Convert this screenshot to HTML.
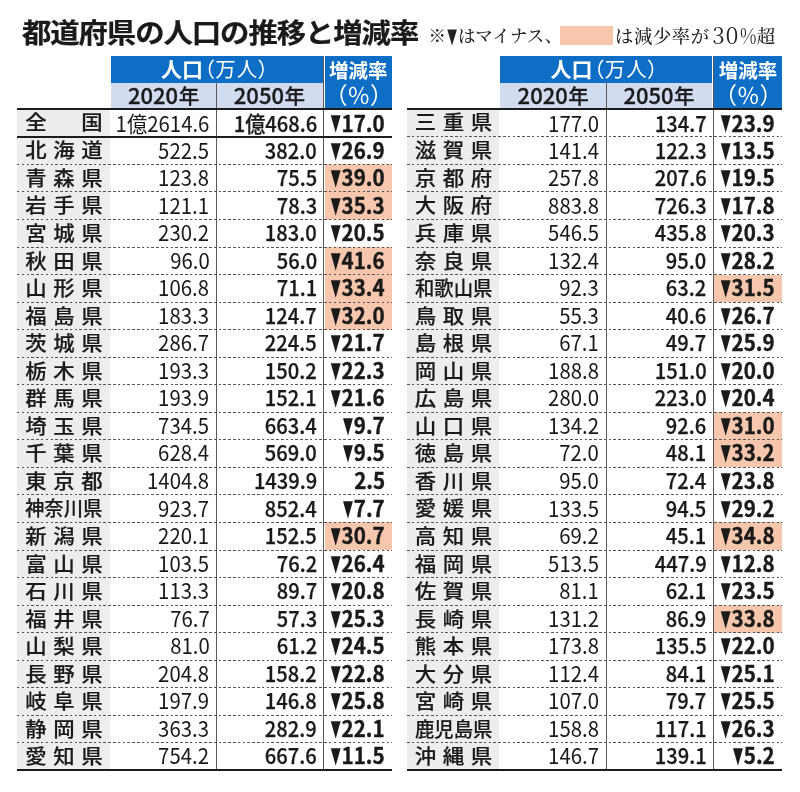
<!DOCTYPE html>
<html lang="ja"><head><meta charset="utf-8"><title>都道府県の人口の推移と増減率</title>
<style>
*{margin:0;padding:0;box-sizing:border-box}
html,body{width:800px;height:792px;background:#fff;overflow:hidden}
body{position:relative;font-family:"Liberation Sans","Noto Sans CJK JP",sans-serif;color:#1a1a1a}
.abs{position:absolute}
.title{left:21.9px;top:11.1px;transform:scaleY(0.93);transform-origin:0 50%;font:700 29.4px/40px "Noto Sans CJK JP","Liberation Sans",sans-serif;letter-spacing:-1.08px;white-space:nowrap;color:#1c1a19;-webkit-text-stroke:0.25px #1c1a19}
.legend{top:21.5px;font:500 17.5px/30px "Noto Serif CJK JP","Noto Serif CJK SC","Liberation Serif",serif;white-space:nowrap;color:#222}
.swatch{left:560px;top:26px;width:52.8px;height:19px;background:#f6c7ad}
.tbl{position:absolute;top:0;width:375px;height:792px}
.namebg{left:0;top:109px;width:92.5px;height:661px;background:#ededed}
.hb{background:#0e6dc5}
.hl{background:#d2dcf0}
.h1{left:93.6px;top:56px;width:212px;height:27.2px}
.h2{left:93.6px;top:83.2px;width:212px;height:24.8px}
.h3{left:307.6px;top:56px;width:67.4px;height:52px}
.ht{color:#fff;white-space:nowrap;font-family:"Noto Sans CJK JP","Liberation Sans",sans-serif}
.hk{font-weight:700;font-size:21px;line-height:27px}
.hp{font-weight:400;font-size:20.5px;font-feature-settings:"palt";letter-spacing:1px;margin-left:1px}
.yr{font:500 22px/24px "Noto Sans CJK JP","Liberation Sans",sans-serif;color:#1a1a1a;-webkit-text-stroke:0.3px #1a1a1a;white-space:nowrap;text-align:center;width:106px}
.nen{font-size:20.5px;margin-left:0.5px}
.vl{width:1px;background:#5a5a5a}
.sl{left:0;width:375px;height:2px;background:#1c1c1c}
.dl{left:0;width:375px;height:1px;background:repeating-linear-gradient(90deg,#555 0 2.5px,transparent 2.5px 4.8px)}
.row{left:0;width:375px}
.nm{position:absolute;left:8.2px;top:-0.5px;-webkit-text-stroke:0.2px #1a1a1a;width:77.4px;transform:scaleY(0.94);text-align:justify;text-align-last:justify;text-justify:inter-character;font:500 21.4px/27.5px "Noto Sans CJK JP","Liberation Sans",sans-serif;color:#1a1a1a;white-space:nowrap}
.nm4{width:85.6px;transform:scale(0.904,0.94);transform-origin:0 50%}
.n{position:absolute;top:-1.4px;line-height:27.5px;white-space:nowrap;text-align:right;font-family:"Noto Sans CJK JP","Liberation Sans",sans-serif;font-size:22px;transform-origin:100% 50%}
.a{right:182.6px;font-weight:400;transform:scaleX(0.925)}
.b{right:75.2px;font-weight:500;transform:scaleX(0.915);-webkit-text-stroke:0.25px #1a1a1a}
.c{right:7.2px;font-weight:700;transform:scaleX(0.935);-webkit-text-stroke:0.4px #1a1a1a}
.pk{left:307.6px;width:67.4px;background:#f6c7ad}
.tri{display:inline-block;-webkit-text-stroke:0;transform:scaleX(0.6);transform-origin:100% 50%;font-size:23px;line-height:27.5px;margin-left:-8px;margin-right:0.9px;font-family:"DejaVu Sans","Liberation Sans",sans-serif;vertical-align:top;position:relative;top:1px}
</style></head><body>
<div class="abs title">都道府県の人口の推移と増減率</div>
<div class="abs legend" style="left:428.6px;top:20px">※<span style="display:inline-block;transform:scaleX(0.6);font-family:'DejaVu Sans',sans-serif;font-size:21px;line-height:30px;vertical-align:top;margin:0 -2.2px 0 -2.2px;position:relative;top:1px">▼</span>はマイナス、</div>
<div class="abs swatch"></div>
<div class="abs legend" style="left:615px;top:19.6px;font-size:18.4px;letter-spacing:0.55px">は減少率が<span style="font-size:22.5px;font-weight:300;line-height:20px;letter-spacing:0.8px;margin-left:2.6px;position:relative;top:1.6px;font-weight:400">30</span><span style="font-size:21px;font-weight:300;line-height:20px;display:inline-block;transform:scaleX(0.86);transform-origin:0 50%;margin-right:-2.6px;margin-left:0.6px;position:relative;top:1.4px">%</span>超</div>
<div class="tbl" style="left:17.0px">
<div class="abs namebg"></div>
<div class="abs hb h1"></div><div class="abs hl h2"></div><div class="abs hb h3"></div>
<div class="abs ht" style="left:144px;top:55.2px;line-height:27px"><span class="hk">人口</span><span class="hp">（万人）</span></div>
<div class="abs yr" style="left:93.6px;top:81.8px">2020<span class="nen">年</span></div>
<div class="abs yr" style="left:199.4px;top:81.8px">2050<span class="nen">年</span></div>
<div class="abs ht" style="left:307.6px;top:57.5px;width:67.4px;text-align:center;font-weight:700;font-size:19.5px;line-height:24px">増減率</div>
<div class="abs ht" style="left:307.6px;top:80.5px;width:67.4px;text-align:center;font-weight:400;font-size:23px;line-height:26px;font-feature-settings:'palt';letter-spacing:0.6px;padding-left:1.5px">（％）</div>
<div class="abs pk" style="top:164px;height:28px"></div>
<div class="abs pk" style="top:192px;height:28px"></div>
<div class="abs pk" style="top:247px;height:28px"></div>
<div class="abs pk" style="top:275px;height:27px"></div>
<div class="abs pk" style="top:302px;height:28px"></div>
<div class="abs pk" style="top:522px;height:28px"></div>
<div class="abs vl" style="left:199px;top:83px;height:688px"></div>
<div class="abs vl" style="left:306px;top:56px;height:715px"></div>
<div class="abs sl" style="top:108px"></div>
<div class="abs sl" style="top:136px"></div>
<div class="abs dl" style="top:164px"></div>
<div class="abs dl" style="top:191px"></div>
<div class="abs dl" style="top:219px"></div>
<div class="abs dl" style="top:247px"></div>
<div class="abs dl" style="top:274px"></div>
<div class="abs dl" style="top:302px"></div>
<div class="abs dl" style="top:329px"></div>
<div class="abs dl" style="top:357px"></div>
<div class="abs dl" style="top:384px"></div>
<div class="abs dl" style="top:412px"></div>
<div class="abs dl" style="top:439px"></div>
<div class="abs dl" style="top:467px"></div>
<div class="abs dl" style="top:494px"></div>
<div class="abs dl" style="top:522px"></div>
<div class="abs dl" style="top:550px"></div>
<div class="abs dl" style="top:577px"></div>
<div class="abs dl" style="top:605px"></div>
<div class="abs dl" style="top:632px"></div>
<div class="abs dl" style="top:660px"></div>
<div class="abs dl" style="top:687px"></div>
<div class="abs dl" style="top:715px"></div>
<div class="abs dl" style="top:742px"></div>
<div class="abs sl" style="top:769px"></div>
<div class="abs row" style="top:108.90px;height:28.00px;line-height:28.00px"><div class="nm" style="line-height:28.00px">全国</div><div class="n a" style="line-height:28.00px">1億2614.6</div><div class="n b" style="line-height:28.00px">1億468.6</div><div class="n c" style="line-height:28.00px"><span class="tri">▼</span>17.0</div></div>
<div class="abs row" style="top:136.90px;height:27.54px;line-height:27.54px"><div class="nm" style="line-height:27.54px">北海道</div><div class="n a" style="line-height:27.54px">522.5</div><div class="n b" style="line-height:27.54px">382.0</div><div class="n c" style="line-height:27.54px"><span class="tri">▼</span>26.9</div></div>
<div class="abs row" style="top:164.44px;height:27.54px;line-height:27.54px"><div class="nm" style="line-height:27.54px">青森県</div><div class="n a" style="line-height:27.54px">123.8</div><div class="n b" style="line-height:27.54px">75.5</div><div class="n c" style="line-height:27.54px"><span class="tri">▼</span>39.0</div></div>
<div class="abs row" style="top:191.98px;height:27.54px;line-height:27.54px"><div class="nm" style="line-height:27.54px">岩手県</div><div class="n a" style="line-height:27.54px">121.1</div><div class="n b" style="line-height:27.54px">78.3</div><div class="n c" style="line-height:27.54px"><span class="tri">▼</span>35.3</div></div>
<div class="abs row" style="top:219.52px;height:27.54px;line-height:27.54px"><div class="nm" style="line-height:27.54px">宮城県</div><div class="n a" style="line-height:27.54px">230.2</div><div class="n b" style="line-height:27.54px">183.0</div><div class="n c" style="line-height:27.54px"><span class="tri">▼</span>20.5</div></div>
<div class="abs row" style="top:247.06px;height:27.54px;line-height:27.54px"><div class="nm" style="line-height:27.54px">秋田県</div><div class="n a" style="line-height:27.54px">96.0</div><div class="n b" style="line-height:27.54px">56.0</div><div class="n c" style="line-height:27.54px"><span class="tri">▼</span>41.6</div></div>
<div class="abs row" style="top:274.60px;height:27.54px;line-height:27.54px"><div class="nm" style="line-height:27.54px">山形県</div><div class="n a" style="line-height:27.54px">106.8</div><div class="n b" style="line-height:27.54px">71.1</div><div class="n c" style="line-height:27.54px"><span class="tri">▼</span>33.4</div></div>
<div class="abs row" style="top:302.14px;height:27.54px;line-height:27.54px"><div class="nm" style="line-height:27.54px">福島県</div><div class="n a" style="line-height:27.54px">183.3</div><div class="n b" style="line-height:27.54px">124.7</div><div class="n c" style="line-height:27.54px"><span class="tri">▼</span>32.0</div></div>
<div class="abs row" style="top:329.68px;height:27.54px;line-height:27.54px"><div class="nm" style="line-height:27.54px">茨城県</div><div class="n a" style="line-height:27.54px">286.7</div><div class="n b" style="line-height:27.54px">224.5</div><div class="n c" style="line-height:27.54px"><span class="tri">▼</span>21.7</div></div>
<div class="abs row" style="top:357.22px;height:27.54px;line-height:27.54px"><div class="nm" style="line-height:27.54px">栃木県</div><div class="n a" style="line-height:27.54px">193.3</div><div class="n b" style="line-height:27.54px">150.2</div><div class="n c" style="line-height:27.54px"><span class="tri">▼</span>22.3</div></div>
<div class="abs row" style="top:384.76px;height:27.54px;line-height:27.54px"><div class="nm" style="line-height:27.54px">群馬県</div><div class="n a" style="line-height:27.54px">193.9</div><div class="n b" style="line-height:27.54px">152.1</div><div class="n c" style="line-height:27.54px"><span class="tri">▼</span>21.6</div></div>
<div class="abs row" style="top:412.30px;height:27.54px;line-height:27.54px"><div class="nm" style="line-height:27.54px">埼玉県</div><div class="n a" style="line-height:27.54px">734.5</div><div class="n b" style="line-height:27.54px">663.4</div><div class="n c" style="line-height:27.54px"><span class="tri">▼</span>9.7</div></div>
<div class="abs row" style="top:439.84px;height:27.54px;line-height:27.54px"><div class="nm" style="line-height:27.54px">千葉県</div><div class="n a" style="line-height:27.54px">628.4</div><div class="n b" style="line-height:27.54px">569.0</div><div class="n c" style="line-height:27.54px"><span class="tri">▼</span>9.5</div></div>
<div class="abs row" style="top:467.38px;height:27.54px;line-height:27.54px"><div class="nm" style="line-height:27.54px">東京都</div><div class="n a" style="line-height:27.54px">1404.8</div><div class="n b" style="line-height:27.54px">1439.9</div><div class="n c" style="line-height:27.54px">2.5</div></div>
<div class="abs row" style="top:494.92px;height:27.54px;line-height:27.54px"><div class="nm nm4" style="line-height:27.54px">神奈川県</div><div class="n a" style="line-height:27.54px">923.7</div><div class="n b" style="line-height:27.54px">852.4</div><div class="n c" style="line-height:27.54px"><span class="tri">▼</span>7.7</div></div>
<div class="abs row" style="top:522.46px;height:27.54px;line-height:27.54px"><div class="nm" style="line-height:27.54px">新潟県</div><div class="n a" style="line-height:27.54px">220.1</div><div class="n b" style="line-height:27.54px">152.5</div><div class="n c" style="line-height:27.54px"><span class="tri">▼</span>30.7</div></div>
<div class="abs row" style="top:550.00px;height:27.54px;line-height:27.54px"><div class="nm" style="line-height:27.54px">富山県</div><div class="n a" style="line-height:27.54px">103.5</div><div class="n b" style="line-height:27.54px">76.2</div><div class="n c" style="line-height:27.54px"><span class="tri">▼</span>26.4</div></div>
<div class="abs row" style="top:577.54px;height:27.54px;line-height:27.54px"><div class="nm" style="line-height:27.54px">石川県</div><div class="n a" style="line-height:27.54px">113.3</div><div class="n b" style="line-height:27.54px">89.7</div><div class="n c" style="line-height:27.54px"><span class="tri">▼</span>20.8</div></div>
<div class="abs row" style="top:605.08px;height:27.54px;line-height:27.54px"><div class="nm" style="line-height:27.54px">福井県</div><div class="n a" style="line-height:27.54px">76.7</div><div class="n b" style="line-height:27.54px">57.3</div><div class="n c" style="line-height:27.54px"><span class="tri">▼</span>25.3</div></div>
<div class="abs row" style="top:632.62px;height:27.54px;line-height:27.54px"><div class="nm" style="line-height:27.54px">山梨県</div><div class="n a" style="line-height:27.54px">81.0</div><div class="n b" style="line-height:27.54px">61.2</div><div class="n c" style="line-height:27.54px"><span class="tri">▼</span>24.5</div></div>
<div class="abs row" style="top:660.16px;height:27.54px;line-height:27.54px"><div class="nm" style="line-height:27.54px">長野県</div><div class="n a" style="line-height:27.54px">204.8</div><div class="n b" style="line-height:27.54px">158.2</div><div class="n c" style="line-height:27.54px"><span class="tri">▼</span>22.8</div></div>
<div class="abs row" style="top:687.70px;height:27.54px;line-height:27.54px"><div class="nm" style="line-height:27.54px">岐阜県</div><div class="n a" style="line-height:27.54px">197.9</div><div class="n b" style="line-height:27.54px">146.8</div><div class="n c" style="line-height:27.54px"><span class="tri">▼</span>25.8</div></div>
<div class="abs row" style="top:715.24px;height:27.54px;line-height:27.54px"><div class="nm" style="line-height:27.54px">静岡県</div><div class="n a" style="line-height:27.54px">363.3</div><div class="n b" style="line-height:27.54px">282.9</div><div class="n c" style="line-height:27.54px"><span class="tri">▼</span>22.1</div></div>
<div class="abs row" style="top:742.78px;height:27.54px;line-height:27.54px"><div class="nm" style="line-height:27.54px">愛知県</div><div class="n a" style="line-height:27.54px">754.2</div><div class="n b" style="line-height:27.54px">667.6</div><div class="n c" style="line-height:27.54px"><span class="tri">▼</span>11.5</div></div>
</div>
<div class="tbl" style="left:406.6px">
<div class="abs namebg"></div>
<div class="abs hb h1"></div><div class="abs hl h2"></div><div class="abs hb h3"></div>
<div class="abs ht" style="left:144px;top:55.2px;line-height:27px"><span class="hk">人口</span><span class="hp">（万人）</span></div>
<div class="abs yr" style="left:93.6px;top:81.8px">2020<span class="nen">年</span></div>
<div class="abs yr" style="left:199.4px;top:81.8px">2050<span class="nen">年</span></div>
<div class="abs ht" style="left:307.6px;top:57.5px;width:67.4px;text-align:center;font-weight:700;font-size:19.5px;line-height:24px">増減率</div>
<div class="abs ht" style="left:307.6px;top:80.5px;width:67.4px;text-align:center;font-weight:400;font-size:23px;line-height:26px;font-feature-settings:'palt';letter-spacing:0.6px;padding-left:1.5px">（％）</div>
<div class="abs pk" style="top:275px;height:27px"></div>
<div class="abs pk" style="top:412px;height:28px"></div>
<div class="abs pk" style="top:440px;height:27px"></div>
<div class="abs pk" style="top:522px;height:28px"></div>
<div class="abs pk" style="top:605px;height:28px"></div>
<div class="abs vl" style="left:199px;top:83px;height:688px"></div>
<div class="abs vl" style="left:306px;top:56px;height:715px"></div>
<div class="abs sl" style="top:108px"></div>
<div class="abs dl" style="top:136px"></div>
<div class="abs dl" style="top:164px"></div>
<div class="abs dl" style="top:191px"></div>
<div class="abs dl" style="top:219px"></div>
<div class="abs dl" style="top:247px"></div>
<div class="abs dl" style="top:274px"></div>
<div class="abs dl" style="top:302px"></div>
<div class="abs dl" style="top:329px"></div>
<div class="abs dl" style="top:357px"></div>
<div class="abs dl" style="top:384px"></div>
<div class="abs dl" style="top:412px"></div>
<div class="abs dl" style="top:439px"></div>
<div class="abs dl" style="top:467px"></div>
<div class="abs dl" style="top:494px"></div>
<div class="abs dl" style="top:522px"></div>
<div class="abs dl" style="top:550px"></div>
<div class="abs dl" style="top:577px"></div>
<div class="abs dl" style="top:605px"></div>
<div class="abs dl" style="top:632px"></div>
<div class="abs dl" style="top:660px"></div>
<div class="abs dl" style="top:687px"></div>
<div class="abs dl" style="top:715px"></div>
<div class="abs dl" style="top:742px"></div>
<div class="abs sl" style="top:769px"></div>
<div class="abs row" style="top:108.90px;height:28.00px;line-height:28.00px"><div class="nm" style="line-height:28.00px">三重県</div><div class="n a" style="line-height:28.00px">177.0</div><div class="n b" style="line-height:28.00px">134.7</div><div class="n c" style="line-height:28.00px"><span class="tri">▼</span>23.9</div></div>
<div class="abs row" style="top:136.90px;height:27.54px;line-height:27.54px"><div class="nm" style="line-height:27.54px">滋賀県</div><div class="n a" style="line-height:27.54px">141.4</div><div class="n b" style="line-height:27.54px">122.3</div><div class="n c" style="line-height:27.54px"><span class="tri">▼</span>13.5</div></div>
<div class="abs row" style="top:164.44px;height:27.54px;line-height:27.54px"><div class="nm" style="line-height:27.54px">京都府</div><div class="n a" style="line-height:27.54px">257.8</div><div class="n b" style="line-height:27.54px">207.6</div><div class="n c" style="line-height:27.54px"><span class="tri">▼</span>19.5</div></div>
<div class="abs row" style="top:191.98px;height:27.54px;line-height:27.54px"><div class="nm" style="line-height:27.54px">大阪府</div><div class="n a" style="line-height:27.54px">883.8</div><div class="n b" style="line-height:27.54px">726.3</div><div class="n c" style="line-height:27.54px"><span class="tri">▼</span>17.8</div></div>
<div class="abs row" style="top:219.52px;height:27.54px;line-height:27.54px"><div class="nm" style="line-height:27.54px">兵庫県</div><div class="n a" style="line-height:27.54px">546.5</div><div class="n b" style="line-height:27.54px">435.8</div><div class="n c" style="line-height:27.54px"><span class="tri">▼</span>20.3</div></div>
<div class="abs row" style="top:247.06px;height:27.54px;line-height:27.54px"><div class="nm" style="line-height:27.54px">奈良県</div><div class="n a" style="line-height:27.54px">132.4</div><div class="n b" style="line-height:27.54px">95.0</div><div class="n c" style="line-height:27.54px"><span class="tri">▼</span>28.2</div></div>
<div class="abs row" style="top:274.60px;height:27.54px;line-height:27.54px"><div class="nm nm4" style="line-height:27.54px">和歌山県</div><div class="n a" style="line-height:27.54px">92.3</div><div class="n b" style="line-height:27.54px">63.2</div><div class="n c" style="line-height:27.54px"><span class="tri">▼</span>31.5</div></div>
<div class="abs row" style="top:302.14px;height:27.54px;line-height:27.54px"><div class="nm" style="line-height:27.54px">鳥取県</div><div class="n a" style="line-height:27.54px">55.3</div><div class="n b" style="line-height:27.54px">40.6</div><div class="n c" style="line-height:27.54px"><span class="tri">▼</span>26.7</div></div>
<div class="abs row" style="top:329.68px;height:27.54px;line-height:27.54px"><div class="nm" style="line-height:27.54px">島根県</div><div class="n a" style="line-height:27.54px">67.1</div><div class="n b" style="line-height:27.54px">49.7</div><div class="n c" style="line-height:27.54px"><span class="tri">▼</span>25.9</div></div>
<div class="abs row" style="top:357.22px;height:27.54px;line-height:27.54px"><div class="nm" style="line-height:27.54px">岡山県</div><div class="n a" style="line-height:27.54px">188.8</div><div class="n b" style="line-height:27.54px">151.0</div><div class="n c" style="line-height:27.54px"><span class="tri">▼</span>20.0</div></div>
<div class="abs row" style="top:384.76px;height:27.54px;line-height:27.54px"><div class="nm" style="line-height:27.54px">広島県</div><div class="n a" style="line-height:27.54px">280.0</div><div class="n b" style="line-height:27.54px">223.0</div><div class="n c" style="line-height:27.54px"><span class="tri">▼</span>20.4</div></div>
<div class="abs row" style="top:412.30px;height:27.54px;line-height:27.54px"><div class="nm" style="line-height:27.54px">山口県</div><div class="n a" style="line-height:27.54px">134.2</div><div class="n b" style="line-height:27.54px">92.6</div><div class="n c" style="line-height:27.54px"><span class="tri">▼</span>31.0</div></div>
<div class="abs row" style="top:439.84px;height:27.54px;line-height:27.54px"><div class="nm" style="line-height:27.54px">徳島県</div><div class="n a" style="line-height:27.54px">72.0</div><div class="n b" style="line-height:27.54px">48.1</div><div class="n c" style="line-height:27.54px"><span class="tri">▼</span>33.2</div></div>
<div class="abs row" style="top:467.38px;height:27.54px;line-height:27.54px"><div class="nm" style="line-height:27.54px">香川県</div><div class="n a" style="line-height:27.54px">95.0</div><div class="n b" style="line-height:27.54px">72.4</div><div class="n c" style="line-height:27.54px"><span class="tri">▼</span>23.8</div></div>
<div class="abs row" style="top:494.92px;height:27.54px;line-height:27.54px"><div class="nm" style="line-height:27.54px">愛媛県</div><div class="n a" style="line-height:27.54px">133.5</div><div class="n b" style="line-height:27.54px">94.5</div><div class="n c" style="line-height:27.54px"><span class="tri">▼</span>29.2</div></div>
<div class="abs row" style="top:522.46px;height:27.54px;line-height:27.54px"><div class="nm" style="line-height:27.54px">高知県</div><div class="n a" style="line-height:27.54px">69.2</div><div class="n b" style="line-height:27.54px">45.1</div><div class="n c" style="line-height:27.54px"><span class="tri">▼</span>34.8</div></div>
<div class="abs row" style="top:550.00px;height:27.54px;line-height:27.54px"><div class="nm" style="line-height:27.54px">福岡県</div><div class="n a" style="line-height:27.54px">513.5</div><div class="n b" style="line-height:27.54px">447.9</div><div class="n c" style="line-height:27.54px"><span class="tri">▼</span>12.8</div></div>
<div class="abs row" style="top:577.54px;height:27.54px;line-height:27.54px"><div class="nm" style="line-height:27.54px">佐賀県</div><div class="n a" style="line-height:27.54px">81.1</div><div class="n b" style="line-height:27.54px">62.1</div><div class="n c" style="line-height:27.54px"><span class="tri">▼</span>23.5</div></div>
<div class="abs row" style="top:605.08px;height:27.54px;line-height:27.54px"><div class="nm" style="line-height:27.54px">長崎県</div><div class="n a" style="line-height:27.54px">131.2</div><div class="n b" style="line-height:27.54px">86.9</div><div class="n c" style="line-height:27.54px"><span class="tri">▼</span>33.8</div></div>
<div class="abs row" style="top:632.62px;height:27.54px;line-height:27.54px"><div class="nm" style="line-height:27.54px">熊本県</div><div class="n a" style="line-height:27.54px">173.8</div><div class="n b" style="line-height:27.54px">135.5</div><div class="n c" style="line-height:27.54px"><span class="tri">▼</span>22.0</div></div>
<div class="abs row" style="top:660.16px;height:27.54px;line-height:27.54px"><div class="nm" style="line-height:27.54px">大分県</div><div class="n a" style="line-height:27.54px">112.4</div><div class="n b" style="line-height:27.54px">84.1</div><div class="n c" style="line-height:27.54px"><span class="tri">▼</span>25.1</div></div>
<div class="abs row" style="top:687.70px;height:27.54px;line-height:27.54px"><div class="nm" style="line-height:27.54px">宮崎県</div><div class="n a" style="line-height:27.54px">107.0</div><div class="n b" style="line-height:27.54px">79.7</div><div class="n c" style="line-height:27.54px"><span class="tri">▼</span>25.5</div></div>
<div class="abs row" style="top:715.24px;height:27.54px;line-height:27.54px"><div class="nm nm4" style="line-height:27.54px">鹿児島県</div><div class="n a" style="line-height:27.54px">158.8</div><div class="n b" style="line-height:27.54px">117.1</div><div class="n c" style="line-height:27.54px"><span class="tri">▼</span>26.3</div></div>
<div class="abs row" style="top:742.78px;height:27.54px;line-height:27.54px"><div class="nm" style="line-height:27.54px">沖縄県</div><div class="n a" style="line-height:27.54px">146.7</div><div class="n b" style="line-height:27.54px">139.1</div><div class="n c" style="line-height:27.54px"><span class="tri">▼</span>5.2</div></div>
</div>
</body></html>
